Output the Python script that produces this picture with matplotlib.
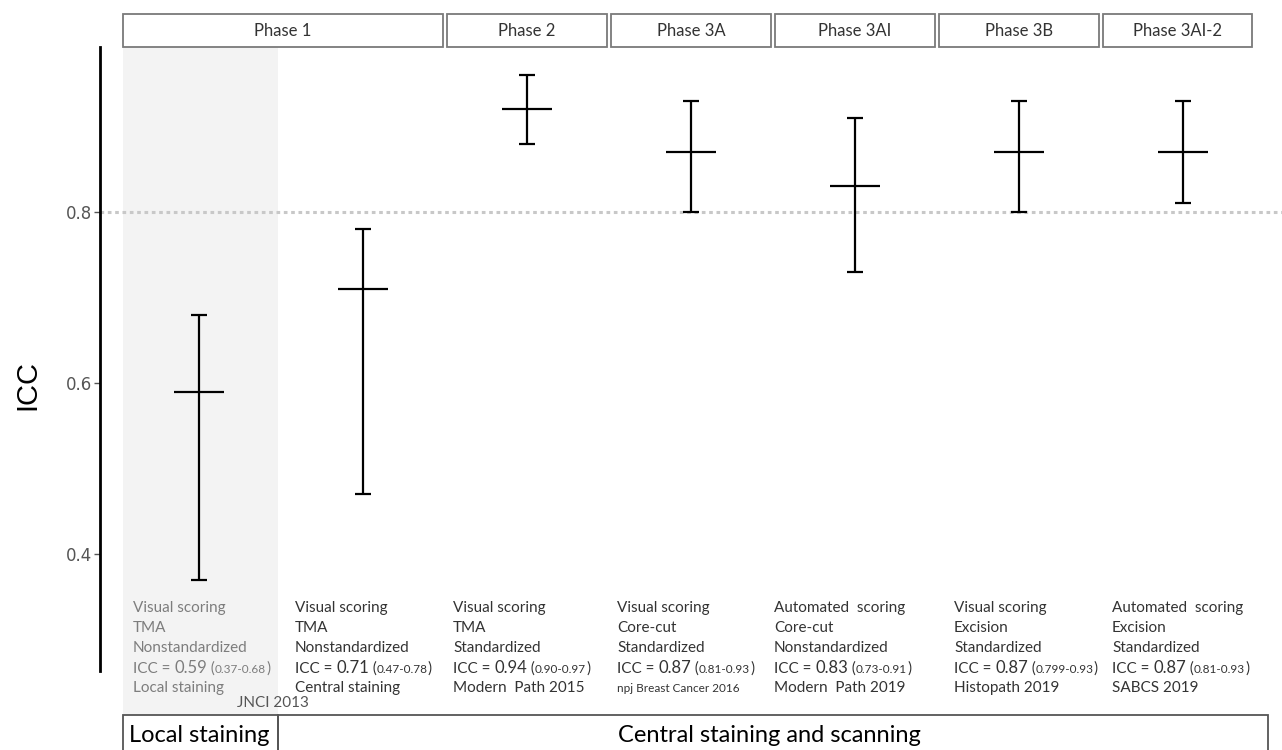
import matplotlib
matplotlib.use("Agg")
import matplotlib.pyplot as plt
from matplotlib.patches import Rectangle
import matplotlib.transforms as mtransforms

# data
phases = ["Phase 1", "Phase 2", "Phase 3A", "Phase 3AI", "Phase 3B", "Phase 3AI-2"]
phase_members = [[0, 1], [2], [3], [4], [5], [6]]
icc_mid = [0.59, 0.71, 0.92, 0.87, 0.83, 0.87, 0.87]
icc_low = [0.37, 0.47, 0.88, 0.80, 0.73, 0.80, 0.81]
icc_high = [0.68, 0.78, 0.96, 0.93, 0.91, 0.93, 0.93]

scoring = ["Visual scoring", "Visual scoring", "Visual scoring", "Visual scoring",
           "Automated  scoring", "Visual scoring", "Automated  scoring"]
specimen = ["TMA", "TMA", "TMA", "Core-cut", "Core-cut", "Excision", "Excision"]
standard = ["Nonstandardized", "Nonstandardized", "Standardized", "Standardized",
            "Nonstandardized", "Standardized", "Standardized"]
icc_text = ["0.59", "0.71", "0.94", "0.87", "0.83", "0.87", "0.87"]
icc_range = ["0.37-0.68", "0.47-0.78", "0.90-0.97", "0.81-0.93",
             "0.73-0.91", "0.799-0.93", "0.81-0.93"]
source = ["Local staining", "Central staining", "Modern  Path 2015",
          "npj Breast Cancer 2016", "Modern  Path 2019", "Histopath 2019", "SABCS 2019"]
yticks = [0.4, 0.6, 0.8]

W, H = 1282, 750
fig = plt.figure(figsize=(W / 100, H / 100), dpi=100)
ax = fig.add_axes([123 / W, 1 - 715 / H, 1129 / W, 668 / H])
ax.set_xlim(-0.4634, 6.4207)
ax.set_ylim(0.8 - 503 / 855, 0.8 + 165 / 855)

txtfont = "Lato"
dark = "#333333"

# grey band for the local staining study
ax.axvspan(-0.4634, 0.48, color="#f3f3f3", zorder=0, lw=0)

# reference line
ax.axhline(0.8, xmin=-23 / 1129, xmax=1159 / 1129, color="#c8c8c8",
           ls=(0, (1.2, 1.2)), lw=2.2, clip_on=False, zorder=1)

x = list(range(len(icc_mid)))
yerr = [[m - l for m, l in zip(icc_mid, icc_low)],
        [h - m for m, h in zip(icc_mid, icc_high)]]
ax.errorbar(x, icc_mid, yerr=yerr, fmt="none", ecolor="black",
            elinewidth=1.6, capsize=6, capthick=1.6, zorder=3)
ax.plot(x, icc_mid, ls="none", marker="_", markersize=36, mew=1.6,
        color="black", zorder=3)

# axis styling
for s in ["top", "right", "bottom"]:
    ax.spines[s].set_visible(False)
ax.spines["left"].set_position(("outward", 16.5))
ax.spines["left"].set_bounds(0.263, 0.993)
ax.spines["left"].set_linewidth(2)
ax.set_xticks([])
ax.set_yticks(yticks)
ax.set_yticklabels([f"{t:.1f}" for t in yticks])
ax.tick_params(axis="y", length=4, width=1, color="#555555",
               labelcolor="#555555", labelsize=12, pad=2)
for lab in ax.get_yticklabels():
    lab.set_fontfamily("DejaVu Sans")
ax.set_facecolor("none")

fig.text(27 / W, 1 - 385 / H, "ICC", rotation=90, ha="center", va="center",
         fontsize=21, family="Liberation Sans", color="black")

# phase header boxes
hdr = mtransforms.blended_transform_factory(ax.transData, ax.transAxes)
xl, xr = ax.get_xlim()
gap = 0.012
for name, mem in zip(phases, phase_members):
    left = max(mem[0] - 0.5, xl) + (gap if mem[0] > 0 else 0)
    right = min(mem[-1] + 0.5, xr) - (gap if mem[-1] < 6 else 0)
    ax.add_patch(Rectangle((left, 1.0), right - left, 33 / 668, transform=hdr,
                           fill=False, ec="#7a7a7a", lw=1.3, clip_on=False))
    ax.text((left + right) / 2, 1.0 + 16 / 668, name, transform=hdr,
            ha="center", va="center", fontsize=12, family=txtfont, color=dark)

# bottom group boxes
bottom_groups = [("Local staining", xl, 0.48), ("Central staining and scanning", 0.48, 6.52)]
for name, a, b in bottom_groups:
    ax.add_patch(Rectangle((a, -60 / 668), b - a, 60 / 668, transform=hdr,
                           fill=False, ec="#555555", lw=1.3, clip_on=False))
ax.text(0.0, -21 / 668, "Local staining", transform=hdr, ha="center", va="center",
        fontsize=17, family=txtfont, color="black")
ax.text(3.48, -21 / 668, "Central staining and scanning", transform=hdr,
        ha="center", va="center", fontsize=17, family=txtfont, color="black")

# annotation columns below each estimate
col_left_px = [133, 295, 453, 617, 774, 954, 1112]
row_px = [608, 628, 648, 668, 688]


def px2data(px, py):
    return (px - 199) / 164, 0.8 - (py - 212) / 855


renderer = fig.canvas.get_renderer()
inv = ax.transData.inverted()
for i in range(len(icc_mid)):
    col = "#7d7d7d" if i == 0 else dark
    xs, _ = px2data(col_left_px[i], 0)
    for r, s in zip([0, 1, 2], [scoring[i], specimen[i], standard[i]]):
        _, yy = px2data(0, row_px[r])
        ax.text(xs, yy, s, ha="left", va="center", fontsize=11,
                family=txtfont, color=col, clip_on=False)
    # ICC line built from pieces of different size
    _, yb = px2data(0, row_px[3] + 5)
    cur = xs
    for piece, fs in [("ICC = ", 11), (icc_text[i], 12), (" (", 11),
                      (icc_range[i], 8.5), (")", 11)]:
        t = ax.text(cur, yb, piece, ha="left", va="baseline", fontsize=fs,
                    family=txtfont, color=col, clip_on=False)
        bb = t.get_window_extent(renderer)
        cur = inv.transform((bb.x1, bb.y0))[0]
    _, yy = px2data(0, row_px[4])
    ax.text(xs, yy, source[i], ha="left", va="center",
            fontsize=8.5 if source[i].startswith("npj") else 11,
            family=txtfont, color=col, clip_on=False)

_, yy = px2data(0, 703)
ax.text(px2data(273, 0)[0], yy, "JNCI 2013", ha="center", va="center",
        fontsize=11, family=txtfont, color="#555555", clip_on=False)

fig.savefig("out.png", dpi=100)
